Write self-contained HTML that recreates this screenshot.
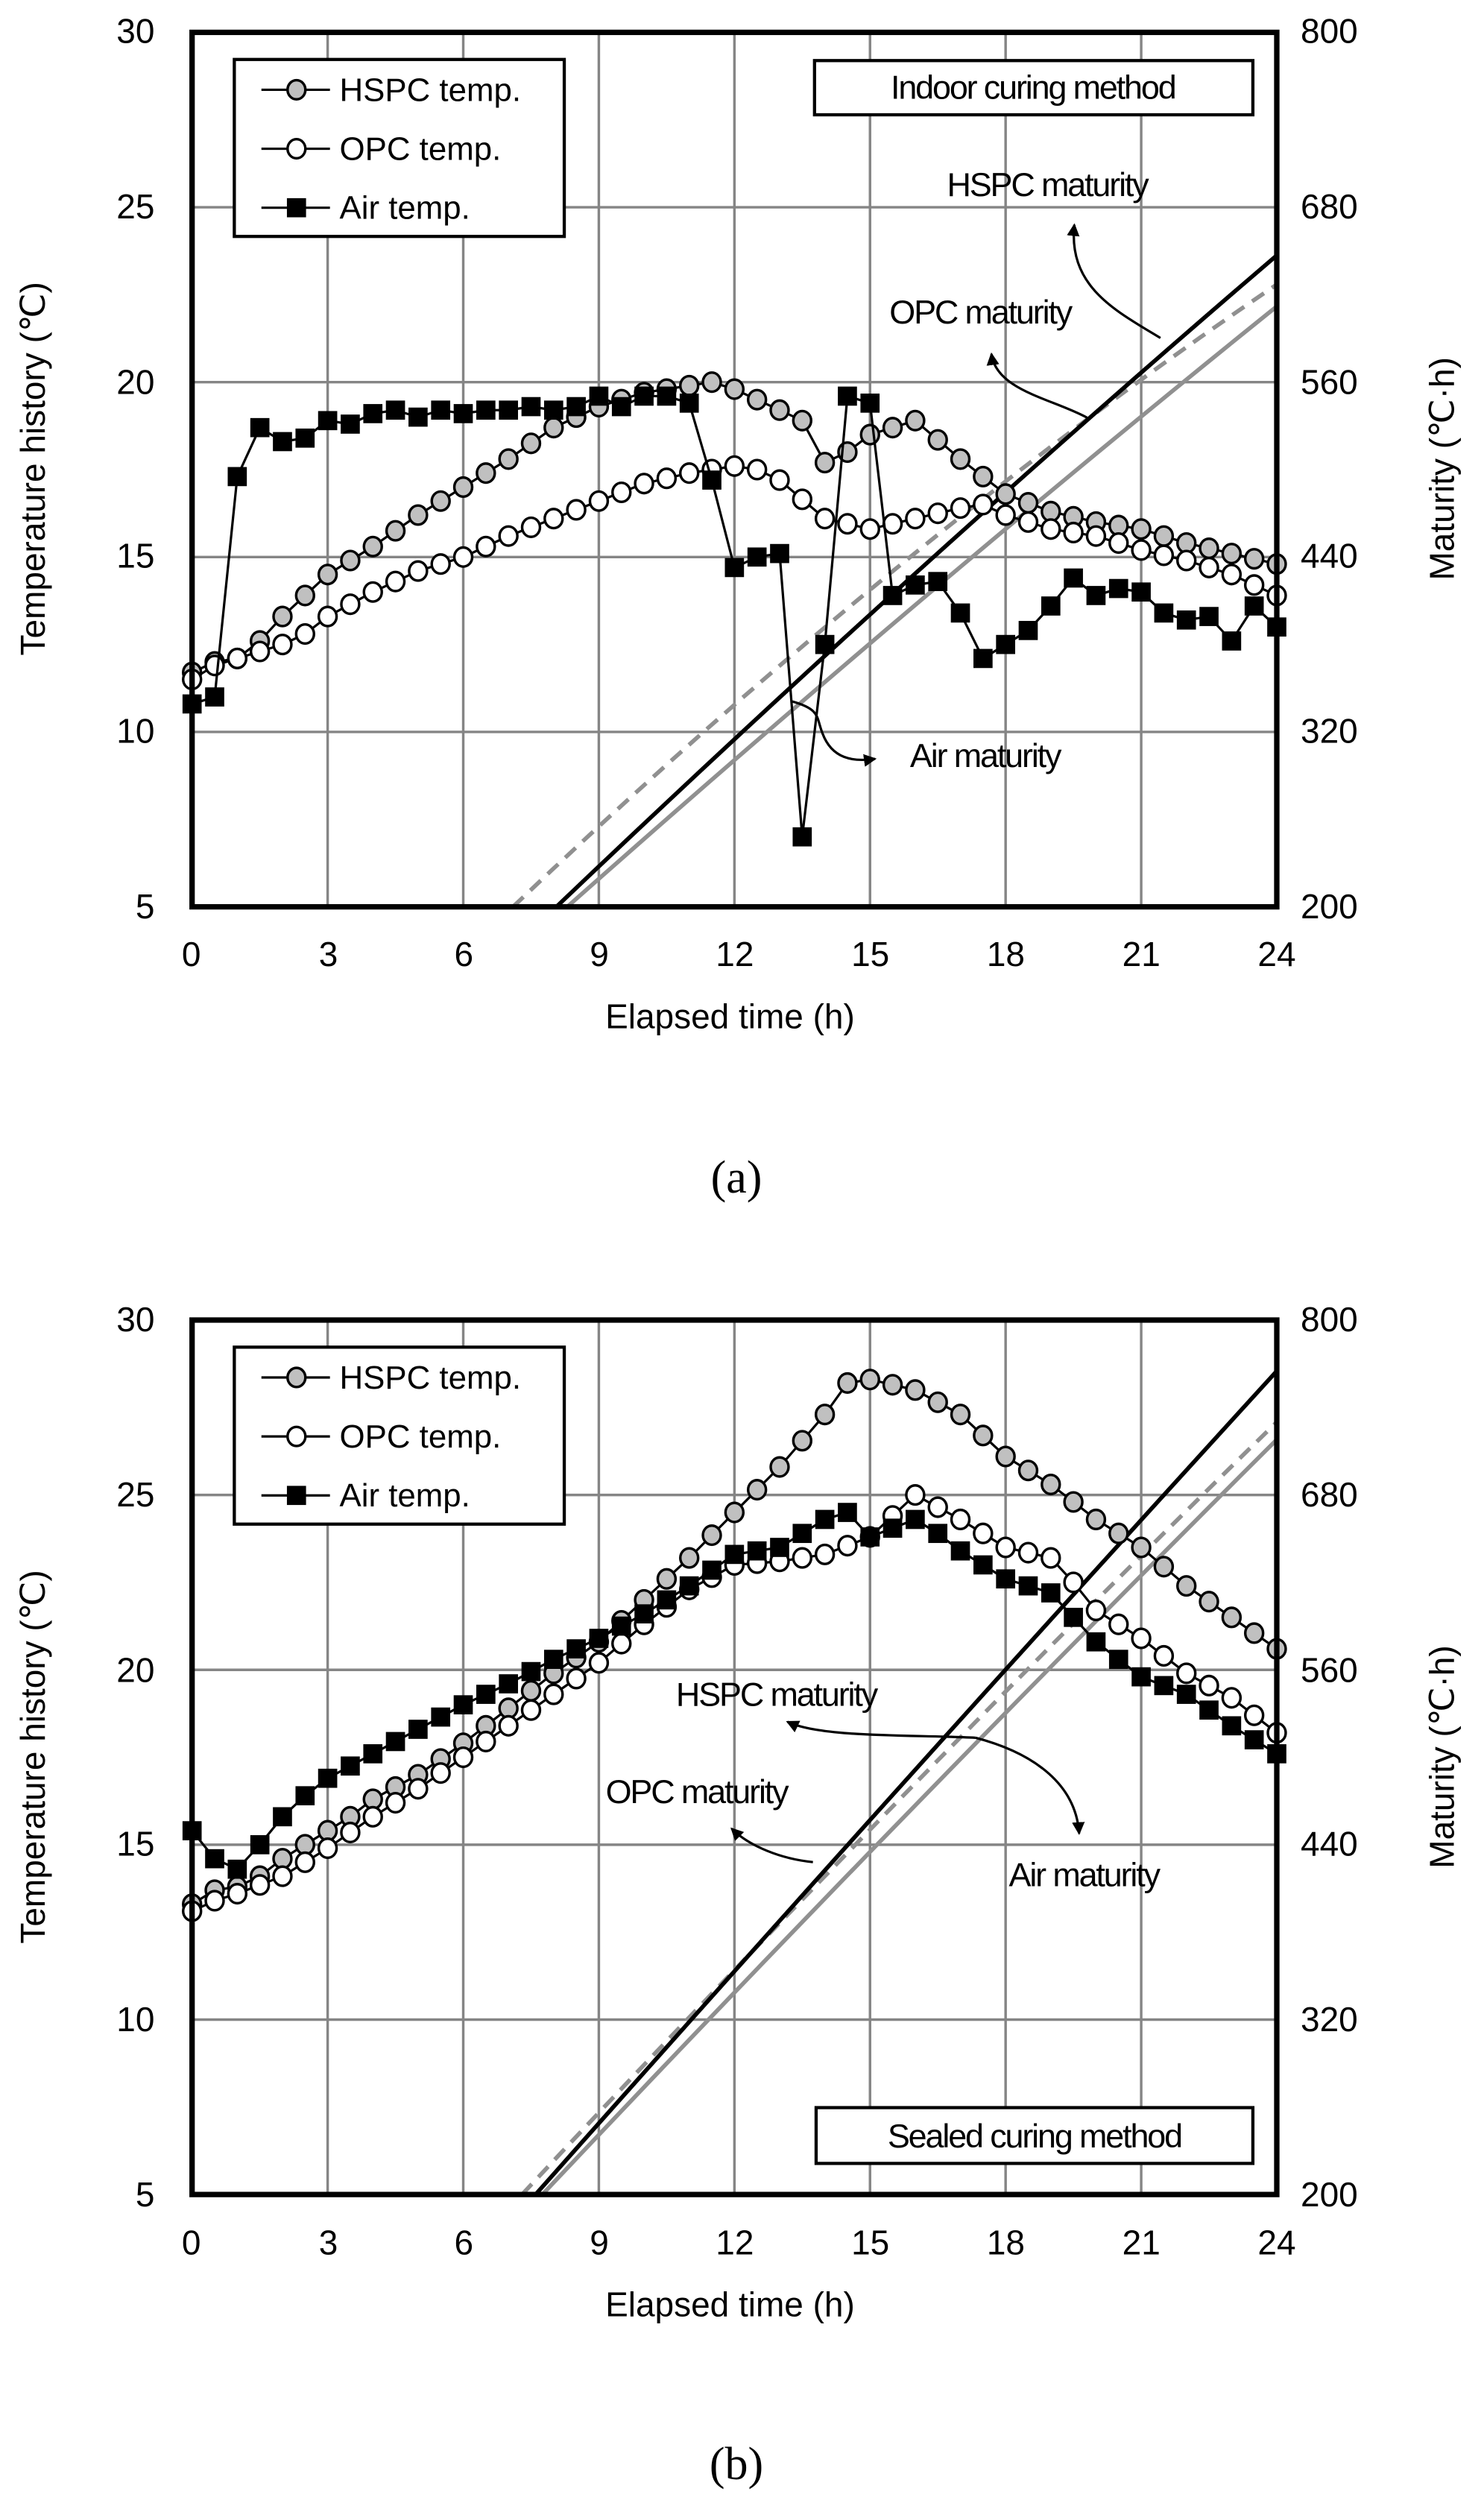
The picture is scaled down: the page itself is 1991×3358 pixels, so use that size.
<!DOCTYPE html>
<html><head><meta charset="utf-8"><style>
html,body{margin:0;padding:0;background:#fff;}
svg{display:block;}
text{font-family:"Liberation Sans",sans-serif;fill:#000;}
.t{font-size:21.5px;}
.ann{font-size:21px;letter-spacing:-1px;}
</style></head><body>
<svg id="s" width="1991" height="3358" viewBox="0 0 931 1570" preserveAspectRatio="none" xmlns="http://www.w3.org/2000/svg">
<defs>
<marker id="ah" markerWidth="8" markerHeight="8" refX="7" refY="4" orient="auto" markerUnits="userSpaceOnUse"><path d="M0,0 L8,4 L0,8 z" fill="#000"/></marker>
</defs>
<g id="ga"></g>
<g id="gb"></g>
<g class="t">
<text x="97" y="27" text-anchor="end">30</text>
<text x="97" y="137" text-anchor="end">25</text>
<text x="97" y="247" text-anchor="end">20</text>
<text x="97" y="356" text-anchor="end">15</text>
<text x="97" y="466" text-anchor="end">10</text>
<text x="97" y="576" text-anchor="end">5</text>
<text x="816" y="27">800</text>
<text x="816" y="137">680</text>
<text x="816" y="247">560</text>
<text x="816" y="356">440</text>
<text x="816" y="466">320</text>
<text x="816" y="576">200</text>
<text x="120" y="606" text-anchor="middle">0</text>
<text x="206" y="606" text-anchor="middle">3</text>
<text x="291" y="606" text-anchor="middle">6</text>
<text x="376" y="606" text-anchor="middle">9</text>
<text x="461" y="606" text-anchor="middle">12</text>
<text x="546" y="606" text-anchor="middle">15</text>
<text x="631" y="606" text-anchor="middle">18</text>
<text x="716" y="606" text-anchor="middle">21</text>
<text x="801" y="606" text-anchor="middle">24</text>
<text x="458" y="645" text-anchor="middle">Elapsed time (h)</text>
<text transform="translate(28,294) rotate(-90)" text-anchor="middle">Temperature  history (℃)</text>
<text transform="translate(912,294) rotate(-90)" text-anchor="middle">Maturity  (℃·h)</text>
</g>
<text x="462" y="748" text-anchor="middle" style="font-family:'Liberation Serif',serif;font-size:29px">(a)</text>
<g class="t">
<text x="97" y="835" text-anchor="end">30</text>
<text x="97" y="945" text-anchor="end">25</text>
<text x="97" y="1055" text-anchor="end">20</text>
<text x="97" y="1164" text-anchor="end">15</text>
<text x="97" y="1274" text-anchor="end">10</text>
<text x="97" y="1384" text-anchor="end">5</text>
<text x="816" y="835">800</text>
<text x="816" y="945">680</text>
<text x="816" y="1055">560</text>
<text x="816" y="1164">440</text>
<text x="816" y="1274">320</text>
<text x="816" y="1384">200</text>
<text x="120" y="1414" text-anchor="middle">0</text>
<text x="206" y="1414" text-anchor="middle">3</text>
<text x="291" y="1414" text-anchor="middle">6</text>
<text x="376" y="1414" text-anchor="middle">9</text>
<text x="461" y="1414" text-anchor="middle">12</text>
<text x="546" y="1414" text-anchor="middle">15</text>
<text x="631" y="1414" text-anchor="middle">18</text>
<text x="716" y="1414" text-anchor="middle">21</text>
<text x="801" y="1414" text-anchor="middle">24</text>
<text x="458" y="1453" text-anchor="middle">Elapsed time (h)</text>
<text transform="translate(28,1102) rotate(-90)" text-anchor="middle">Temperature  history (℃)</text>
<text transform="translate(912,1102) rotate(-90)" text-anchor="middle">Maturity  (℃·h)</text>
</g>
<text x="462" y="1555" text-anchor="middle" style="font-family:'Liberation Serif',serif;font-size:29px">(b)</text>
<rect x="511" y="38" width="275" height="34" fill="#fff" stroke="#000" stroke-width="2"/>
<text class="ann" x="648" y="62" text-anchor="middle">Indoor curing method</text>
<text class="ann" x="657" y="123" text-anchor="middle">HSPC maturity</text>
<text class="ann" x="615" y="203" text-anchor="middle">OPC maturity</text>
<text class="ann" x="618" y="481" text-anchor="middle">Air maturity</text>
<path d="M728,212 C700,195 670,180 674,141" fill="none" stroke="#000" stroke-width="1.5" marker-end="url(#ah)"/>
<path d="M682,262 C660,250 625,245 622,222" fill="none" stroke="#000" stroke-width="1.5" marker-end="url(#ah)"/>
<path d="M497,440 C515,445 512,450 516,460 C522,476 535,478 549,476" fill="none" stroke="#000" stroke-width="1.5" marker-end="url(#ah)"/>
<rect x="512" y="1322" width="274" height="35" fill="#fff" stroke="#000" stroke-width="2"/>
<text class="ann" x="649" y="1347" text-anchor="middle">Sealed curing method</text>
<text class="ann" x="487" y="1070" text-anchor="middle">HSPC maturity</text>
<text class="ann" x="437" y="1131" text-anchor="middle">OPC maturity</text>
<text class="ann" x="680" y="1183" text-anchor="middle">Air maturity</text>
<path d="M612,1090 C570,1088 515,1090 494,1080" fill="none" stroke="#000" stroke-width="1.5" marker-end="url(#ah)"/>
<path d="M612,1090 C650,1100 675,1120 677,1150" fill="none" stroke="#000" stroke-width="1.5" marker-end="url(#ah)"/>
<path d="M510,1168 C490,1166 470,1158 459,1147" fill="none" stroke="#000" stroke-width="1.5" marker-end="url(#ah)"/>
</svg>
<script>
var NS="http://www.w3.org/2000/svg";
function el(p,n,a){var e=document.createElementNS(NS,n);for(var k in a)e.setAttribute(k,a[k]);p.appendChild(e);return e;}
function interp(keys,t){var ks=Object.keys(keys).map(Number).sort(function(a,b){return a-b});
 for(var i=0;i<ks.length-1;i++){if(t>=ks[i]&&t<=ks[i+1]){var a=ks[i],b=ks[i+1];return keys[a]+(keys[b]-keys[a])*(t-a)/(b-a);}}return keys[ks[ks.length-1]];}
function chart(g,top,d){
 var L=120.5,R=801,B=top+548.5,sx=(R-L)/24,sy=548.5/25;
 var X=function(t){return L+t*sx},Y=function(v){return top+(30-v)*sy},Ym=function(m){return top+(800-m)*548.5/600};
 for(var i=1;i<8;i++)el(g,"line",{x1:X(i*3),x2:X(i*3),y1:top,y2:B,stroke:"#858585","stroke-width":1.6});
 for(var v=10;v<30;v+=5)el(g,"line",{x1:L,x2:R,y1:Y(v),y2:Y(v),stroke:"#858585","stroke-width":1.6});
 var cp=el(g,"clipPath",{id:"c"+top});el(cp,"rect",{x:L,y:top,width:R-L,height:548.5});
 var mg=el(g,"g",{"clip-path":"url(#c"+top+")"});
 d.mat.forEach(function(m){var pts=m.p.map(function(q){return X(q[0])+","+Ym(q[1])}).join(" ");
  el(mg,"polyline",{points:pts,fill:"none",stroke:m.c,"stroke-width":2.6,"stroke-dasharray":m.dash||"none"});});
 function series(keys,type){var pts=[];for(var t=0;t<=24.001;t+=0.5)pts.push([X(t),Y(interp(keys,t))]);
  el(g,"polyline",{points:pts.map(function(p){return p.join(",")}).join(" "),fill:"none",stroke:"#000","stroke-width":1.5});
  pts.forEach(function(p){if(type=="sq")el(g,"rect",{x:p[0]-6,y:p[1]-6,width:12,height:12,fill:"#000"});
   else el(g,"ellipse",{cx:p[0],cy:p[1],rx:5.6,ry:6,fill:type=="g"?"#c0c0c0":"#fff",stroke:"#000","stroke-width":1.6});});}
 series(d.h,"g");series(d.o,"o");series(d.a,"sq");
 el(g,"rect",{x:L,y:top,width:R-L,height:548.5,fill:"none",stroke:"#000","stroke-width":3.4});
 if(d.leg){var lg=el(g,"g",{});
  el(lg,"rect",{x:147,y:top+17,width:207,height:111,fill:"#fff",stroke:"#000","stroke-width":2});
  [["HSPC temp.","g",36],["OPC temp.","o",73],["Air temp.","sq",110]].forEach(function(e){var y=top+e[2];
   el(lg,"line",{x1:164,x2:207,y1:y,y2:y,stroke:"#000","stroke-width":1.5});
   if(e[1]=="sq")el(lg,"rect",{x:180,y:y-6,width:12,height:12,fill:"#000"});
   else el(lg,"ellipse",{cx:186,cy:y,rx:5.6,ry:6,fill:e[1]=="g"?"#c0c0c0":"#fff",stroke:"#000","stroke-width":1.6});
   var tx=el(lg,"text",{x:213,y:y+7,"font-size":20.5});tx.textContent=e[0];});}
}
function q(t0,t1,m1,mid){var p=[];for(var i=0;i<=20;i++){var s=i/20;var t=t0+(t1-t0)*s;var lin=200+(m1-200)*s;p.push([t,lin+mid*4*s*(1-s)]);}return p;}
chart(document.getElementById("ga"),20.3,{leg:1,
 h:{0:11.7,0.5:12,1:12.1,1.5:12.6,2:13.3,3:14.5,4:15.3,5:16.2,6:17,7:17.8,8:18.7,9:19.3,10:19.7,11.5:20,12:19.8,13:19.2,13.5:18.9,14:17.7,14.5:18,15:18.5,16:18.9,17:17.8,18:16.8,19:16.3,20:16,21:15.8,22:15.4,23:15.1,24:14.8},
 o:{0:11.5,0.5:11.9,1:12.1,2:12.5,2.5:12.8,3:13.3,4:14,5:14.6,6:15,7:15.6,8:16.1,9:16.6,10:17.1,11:17.4,12:17.6,12.5:17.5,13:17.2,14:16.1,15:15.8,16:16.1,17:16.4,17.5:16.5,18:16.2,19:15.8,20:15.6,21:15.2,22:14.9,23:14.5,24:13.9},
 a:{0:10.8,0.5:11,1:17.3,1.5:18.7,2:18.3,2.5:18.4,3:18.9,3.5:18.8,4:19.1,4.5:19.2,5:19,5.5:19.2,6:19.1,6.5:19.2,7:19.2,7.5:19.3,8:19.2,8.5:19.3,9:19.6,9.5:19.3,10:19.6,10.5:19.6,11:19.4,11.5:17.2,12:14.7,12.5:15,13:15.1,13.5:7,14:12.5,14.5:19.6,15:19.4,15.5:13.9,16:14.2,16.5:14.3,17:13.4,17.5:12.1,18:12.5,18.5:12.9,19:13.6,19.5:14.4,20:13.9,20.5:14.1,21:14,21.5:13.4,22:13.2,22.5:13.3,23:12.6,23.5:13.6,24:13},
 mat:[{c:"#909090",p:q(7.1,24,627,18),dash:"9,6"},{c:"#909090",p:q(8.3,24,612,5)},{c:"#000",p:q(8.06,24,647,6)}]});
chart(document.getElementById("gb"),828,{leg:1,
 h:{0:13.3,0.5:13.7,1:13.8,1.5:14.1,2:14.6,2.5:15,3:15.4,3.5:15.8,4:16.3,5:17,6:17.9,7:18.9,8:19.9,9:20.8,10:22,11:23.2,12:24.5,13:25.8,14:27.3,14.5:28.2,15:28.3,16:28,17:27.3,18:26.1,19:25.3,20:24.3,21:23.5,22:22.4,23:21.5,24:20.6},
 o:{0:13.1,0.5:13.4,1:13.6,2:14.1,3:14.9,4:15.8,5:16.6,6:17.5,7:18.4,8:19.3,9:20.2,10:21.3,11:22.3,12:23,13:23.1,14:23.3,15:23.8,16:25,17:24.3,18:23.5,19:23.2,19.5:22.5,20:21.7,21:20.9,22:19.9,23:19.2,24:18.2},
 a:{0:15.4,0.5:14.6,1:14.3,1.5:15,2:15.8,2.5:16.4,3:16.9,4:17.6,5:18.3,6:19,7:19.6,8:20.3,9:20.9,10:21.6,11:22.4,12:23.3,13:23.5,14:24.3,14.5:24.5,15:23.8,16:24.3,16.5:23.9,17:23.4,18:22.6,19:22.2,20:20.8,21:19.8,22:19.3,23:18.4,24:17.6},
 mat:[{c:"#909090",p:q(7.3,24,730,6),dash:"9,6"},{c:"#909090",p:q(7.75,24,718,4)},{c:"#000",p:q(7.6,24,765,2)}]});
</script>
</body></html>
